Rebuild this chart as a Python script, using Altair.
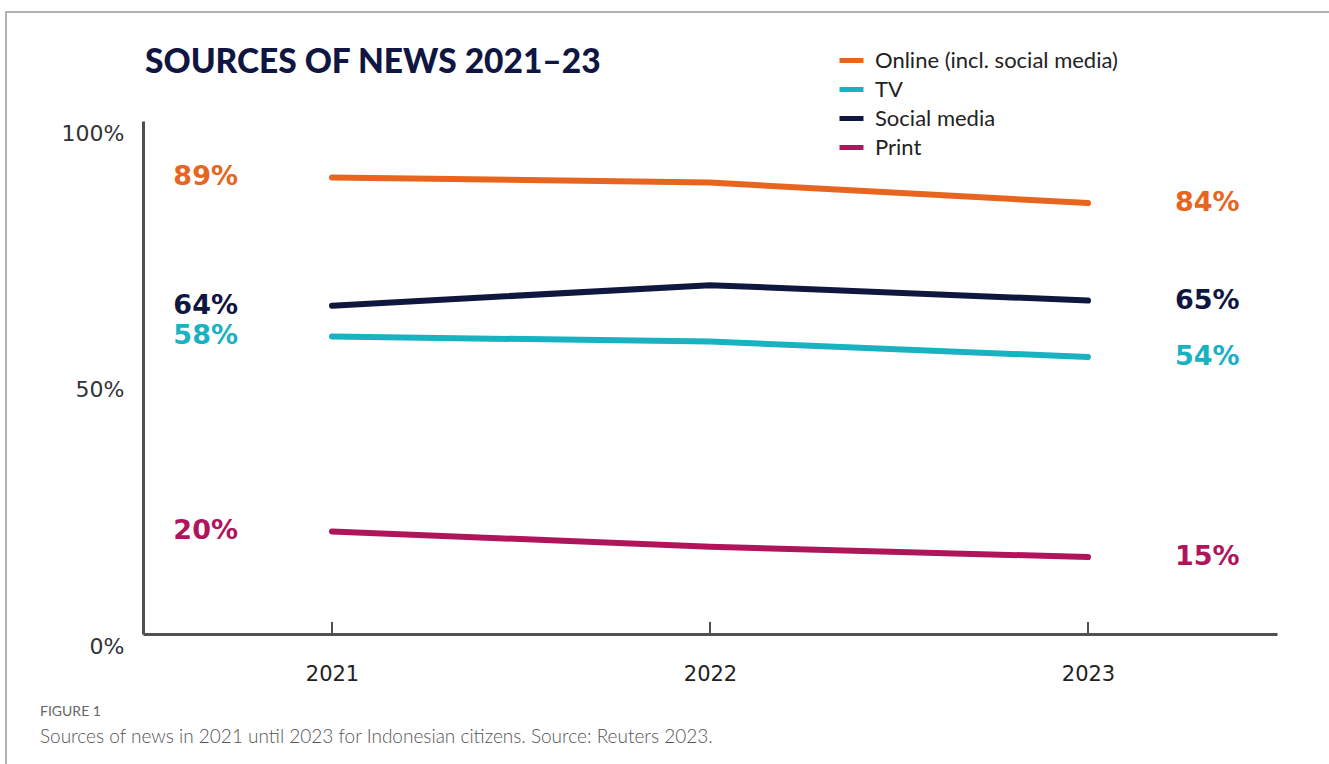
import altair as alt
import pandas as pd

years = [2021, 2022, 2023]
series = ["Online (incl. social media)", "TV", "Social media", "Print"]
online = [0.89, 0.88, 0.84]
tv = [0.58, 0.57, 0.54]
social = [0.64, 0.68, 0.65]
printed = [0.20, 0.17, 0.15]
colors = ["#e8651f", "#19b2c1", "#10173f", "#b0155c"]

vals = {series[0]: online, series[1]: tv, series[2]: social, series[3]: printed}
rows = []
for s in series:
    for y, v in zip(years, vals[s]):
        rows.append({"year": y, "share": v, "source": s})
df = pd.DataFrame(rows)
first = df[df.year == years[0]]
last = df[df.year == years[-1]]
ticks_df = pd.DataFrame({"year": years})

W, H = 1134, 513
PL, PT = 143, 121

xs = alt.Scale(domain=[2020.5, 2023.5], nice=False, zero=False)
ys = alt.Scale(domain=[0, 1], nice=False)
cs = alt.Scale(domain=series, range=colors)

base = alt.Chart(df)

lines = base.mark_line(strokeWidth=6, strokeCap="round", strokeJoin="round").encode(
    x=alt.X("year:Q", scale=xs,
            axis=alt.Axis(values=years, format="d", title=None, grid=False, ticks=False,
                          domainColor="#505050", domainWidth=3, labelFont="DejaVu Sans",
                          labelFontSize=21, labelColor="#222", labelPadding=29)),
    y=alt.Y("share:Q", scale=ys,
            axis=alt.Axis(values=[0, 0.5, 1], format=".0%", title=None, grid=False, ticks=False,
                          domainColor="#505050", domainWidth=3, labelFont="DejaVu Sans",
                          labelFontSize=22, labelColor="#333", labelPadding=19, labelOffset=12)),
    color=alt.Color("source:N", scale=cs, sort=series,
                    legend=alt.Legend(title=None, orient="none", legendX=694, legendY=-75,
                                      symbolType="stroke", symbolStrokeWidth=5, symbolSize=576,
                                      labelFont="Lato", labelFontSize=22, labelColor="#222",
                                      labelOffset=9, rowPadding=3, labelLimit=0)),
)

tick_rules = alt.Chart(ticks_df).mark_rule(color="#505050", strokeWidth=2).encode(
    x=alt.X("year:Q", scale=xs), y=alt.datum(0, scale=ys), y2=alt.value(H - 12)
)

left_lbl = alt.Chart(first).mark_text(align="right", baseline="middle", dx=-94,
                                      font="DejaVu Sans", fontWeight="bold", fontSize=27).encode(
    x=alt.X("year:Q", scale=xs), y=alt.Y("share:Q", scale=ys),
    text=alt.Text("share:Q", format=".0%"),
    color=alt.Color("source:N", scale=cs, legend=None),
)
right_lbl = alt.Chart(last).mark_text(align="left", baseline="middle", dx=87,
                                      font="DejaVu Sans", fontWeight="bold", fontSize=27).encode(
    x=alt.X("year:Q", scale=xs), y=alt.Y("share:Q", scale=ys),
    text=alt.Text("share:Q", format=".0%"),
    color=alt.Color("source:N", scale=cs, legend=None),
)

one = pd.DataFrame({"a": [0]})
frame = alt.Chart(one).mark_rect(fill="white", fillOpacity=0, stroke="#9a9a9a", strokeWidth=1.5).encode(
    x=alt.value(6 - PL), y=alt.value(12 - PT), x2=alt.value(1400), y2=alt.value(900)
)
title = alt.Chart(one).mark_text(align="left", baseline="middle", font="Lato", fontWeight=900,
                                 fontSize=33.5, color="#0f1642").encode(
    x=alt.value(145 - PL), y=alt.value(63 - PT), text=alt.value("SOURCES OF NEWS 2021–23")
)
fig_lbl = alt.Chart(one).mark_text(align="left", baseline="middle", font="Lato",
                                   fontSize=14, color="#666").encode(
    x=alt.value(40 - PL), y=alt.value(712 - PT), text=alt.value("FIGURE 1")
)
cap = alt.Chart(one).mark_text(align="left", baseline="middle", font="Lato", fontWeight=300,
                               fontSize=19, color="#555").encode(
    x=alt.value(40 - PL), y=alt.value(737 - PT),
    text=alt.value("Sources of news in 2021 until 2023 for Indonesian citizens. Source: Reuters 2023.")
)

chart = alt.layer(frame, tick_rules, lines, left_lbl, right_lbl, title, fig_lbl, cap).properties(
    width=W, height=H,
    padding={"left": PL, "top": PT, "right": 1329 - PL - W, "bottom": 764 - PT - H},
    autosize=alt.AutoSizeParams(type="none"),
).configure(background="white").configure_view(strokeWidth=0, stroke="transparent")

chart.save("out.html", embed_options={"renderer": "svg", "actions": False})
